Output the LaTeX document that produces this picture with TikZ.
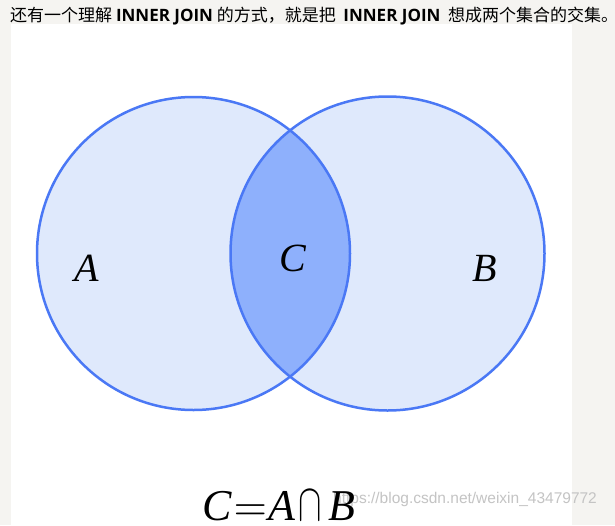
\documentclass[tikz,border=0pt]{standalone}
\usepackage{fontspec}
\setmainfont{Liberation Serif}
\newfontfamily\cjk{Noto Sans CJK SC}
\newfontfamily\latsans{Open Sans}
\newfontfamily\wmfont{Liberation Sans}
\definecolor{pagegray}{HTML}{F5F4F1}
\definecolor{setline}{HTML}{4A78F5}
\definecolor{setlight}{HTML}{DFE9FC}
\definecolor{setmid}{HTML}{8EB0FC}
\definecolor{wmgray}{HTML}{C4C4C4}
\newcommand{\bigsym}[3]{\scalebox{#1}[#2]{\fontsize{10}{12}\selectfont$#3$}}
\begin{document}
\begin{tikzpicture}[x=1pt, y=-1pt,
    circ/.style={draw=setline, line width=2.5pt},
    letter/.style={font=\fontsize{40}{40}\selectfont\itshape, inner sep=0}]
  \useasboundingbox (0,0) rectangle (615,525);
  \fill[pagegray] (0,0) rectangle (615,525);
  \fill[white] (11,24) rectangle (572,525);
  \node[anchor=base west, inner sep=0] (title) at (10,21)
    {\cjk\fontsize{17}{17}\selectfont 还有一个理解 {\latsans\bfseries INNER JOIN} 的方式，就是把\ \ {\latsans\bfseries INNER JOIN}\ \ 想成两个集合的交集。};
  \coordinate (ca) at (193.5,253.5);
  \coordinate (cb) at (387.5,253.5);
  \fill[setlight] (ca) circle (156.5pt);
  \fill[setlight] (cb) circle (157pt);
  \begin{scope}
    \clip (ca) circle (156.5pt);
    \fill[setmid] (cb) circle (157pt);
  \end{scope}
  \draw[circ] (ca) circle (156.5pt);
  \draw[circ] (cb) circle (157pt);
  \node[letter] (la) at (87,268.5) {A};
  \node[letter] (lc) at (293,258) {C};
  \node[letter] (lb) at (485,268.5) {B};
  \node[anchor=base west, inner sep=0, text=wmgray, font=\wmfont\fontsize{15.5}{15.5}\selectfont] (wm) at (333,503) {https://blog.csdn.net/weixin\_43479772};
  \node[anchor=base west, inner sep=0, font=\fontsize{44}{44}\selectfont] (formula) at (202,520)
    {\itshape C\hspace{2pt}\bigsym{4.3}{4.3}{=}\hspace{2pt}A\hspace{3pt}\bigsym{3.5}{5.3}{\cap}\hspace{6pt}B};
\end{tikzpicture}
\end{document}
